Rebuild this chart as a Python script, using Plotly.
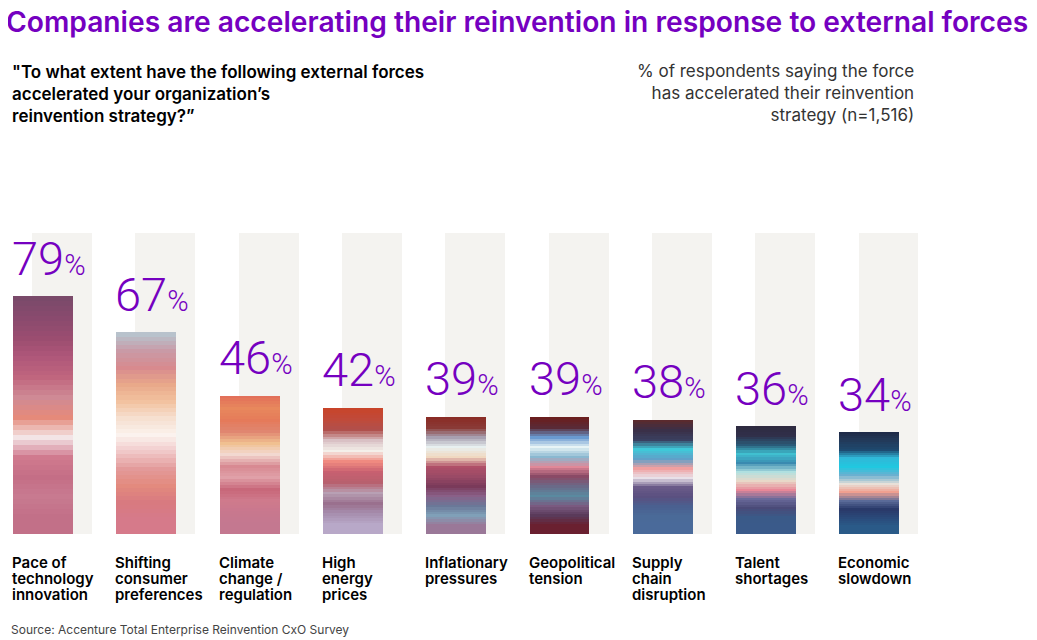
import plotly.graph_objects as go

# ---------------- data ----------------
categories = [
    "Pace of<br>technology<br>innovation",
    "Shifting<br>consumer<br>preferences",
    "Climate<br>change /<br>regulation",
    "High<br>energy<br>prices",
    "Inflationary<br>pressures",
    "Geopolitical<br>tension",
    "Supply<br>chain<br>disruption",
    "Talent<br>shortages",
    "Economic<br>slowdown",
]
values = [79, 67, 46, 42, 39, 39, 38, 36, 34]
track_values = [100, 100, 100, 100, 100, 100, 100, 100, 100]

title_text = "Companies are accelerating their reinvention in response to external forces"
question_text = ('"To what extent have the following external forces<br>'
                 'accelerated your organization\u2019s<br>reinvention strategy?\u201d')
measure_text = ("% of respondents saying the force<br>has accelerated their reinvention"
                "<br>strategy (n=1,516)")
source_text = "Source: Accenture Total Enterprise Reinvention CxO Survey"

# ---------------- styles ----------------
PAGE_W, PAGE_H = 1037, 640
OFF = 8                      # page body margin in the browser
W, H = PAGE_W - OFF, PAGE_H - OFF
PURPLE = "#7500C0"
TRACK = "#F4F3F0"
FONT = "Inter"

# colour stripes (top -> bottom) imitating the photo textures of each bar
stripes = [
    ["#7a4a6a", "#8a4a6e", "#9b4d70", "#b0587a", "#c0667e", "#cf8a95",
     "#e58a7a", "#f3e4e6", "#d07a8e", "#c46e86", "#c87a90", "#c27088"],
    ["#b8c2cc", "#c99aa6", "#d88a8e", "#e9a98a", "#f2c2a0", "#f6e0d0",
     "#fbf2ee", "#f0c8c8", "#e39a9a", "#e38a7e", "#d87a80", "#d67a8a"],
    ["#e2705a", "#e8885c", "#e57a5a", "#e08670", "#f0c090", "#f2d8d0",
     "#d88a92", "#e0a0a8", "#c8687a", "#cf7a8c", "#c8788e", "#c47890"],
    ["#c8442a", "#c04a3a", "#b0504c", "#d9c0c4", "#f4f0ea", "#f08a80",
     "#c86070", "#b8606e", "#b8a0b4", "#9a708e", "#a890b0", "#b8a8c8"],
    ["#8a2c26", "#8a3a36", "#a8a0b0", "#e8f0f0", "#f0d8c0", "#b05068",
     "#9a4a66", "#7a3a5a", "#8a6088", "#6a7898", "#80a0b8", "#9a7898"],
    ["#6a1e1e", "#5a2a36", "#6a9ad0", "#e8f4f6", "#8ab8d0", "#e08898",
     "#8a4a66", "#6a6a88", "#5a8aa0", "#7a5a80", "#5a3a5a", "#6a2030"],
    ["#5a2a2e", "#3a3048", "#3a4060", "#40c8d8", "#60a0c8", "#f0a0a0",
     "#e8e0e8", "#6a5a88", "#5a5080", "#4a6090", "#4a6a98", "#4a6a9a"],
    ["#2e2a40", "#30304a", "#2a5a78", "#40c0d0", "#3a8ab0", "#b0e0e0",
     "#e8d8c8", "#e88898", "#6a6a9a", "#4a4a78", "#3a5a88", "#3a5a8a"],
    ["#1e2a48", "#223a5a", "#1e4a70", "#30b8d8", "#20c8e0", "#6ab0d0",
     "#e8e0d8", "#f0a090", "#5a6a98", "#2a3a6a", "#2a4a7a", "#2a5a88"],
]


def _hex(c):
    c = c.lstrip("#")
    return [int(c[i:i + 2], 16) for i in (0, 2, 4)]


def smooth(cols, sub=4):
    """Blend neighbouring stripe colours for a softer gradient look."""
    out = []
    rgb = [_hex(c) for c in cols]
    for a, b in zip(rgb, rgb[1:] + [rgb[-1]]):
        for s in range(sub):
            t = s / sub
            m = [round(a[i] + (b[i] - a[i]) * t) for i in range(3)]
            out.append("#%02x%02x%02x" % tuple(m))
    return out


fine = [smooth(s) for s in stripes]

# pixel geometry (reference page px) -> axis ranges
UNIT_X = 103.3      # px per category slot
X0_PX = 13 - OFF    # px of first bar left edge
PX_PER_PCT = 3.01
Y0_PX = 534 - OFF   # px of baseline
BAR_W = 0.58
TRACK_OFF = 0.185

x_range = [-X0_PX / UNIT_X, (W - X0_PX) / UNIT_X]
y_range = [-(H - Y0_PX) / PX_PER_PCT, Y0_PX / PX_PER_PCT]


def py(px):
    """reference page pixel (from top) -> paper y"""
    return 1 - (px - OFF) / H


def pxx(px):
    return (px - OFF) / W


xs = list(range(len(values)))

fig = go.Figure()

# background tracks (100%)
fig.add_trace(go.Bar(
    x=xs, y=track_values, base=0, width=BAR_W, offset=TRACK_OFF,
    marker=dict(color=TRACK, line=dict(width=0)), hoverinfo="skip",
    showlegend=False,
))

# value bars, drawn as stacked stripes
n = len(fine[0])
for k in range(n):  # k = 0 top stripe
    fig.add_trace(go.Bar(
        x=xs,
        y=[v / n for v in values],
        base=[v * (n - 1 - k) / n for v in values],
        width=BAR_W, offset=0,
        marker=dict(color=[s[k] for s in fine], line=dict(width=0)),
        showlegend=False,
        hoverinfo="skip",
    ))

ann = []
# percentage labels
for i, v in enumerate(values):
    ann.append(dict(
        x=i, y=v + 2.7, xref="x", yref="y", xanchor="left", yanchor="bottom",
        text=f"{v}<span style='font-size:29px'>%</span>",
        showarrow=False, xshift=-3,
        font=dict(family="Roboto", size=47, color=PURPLE, weight=300),
    ))

# category labels: small base size sets tight 16px leading, glyphs at 15px
LBL_FS = 15
LEAD_FS = 12.3
for i, c in enumerate(categories):
    txt = "<br>".join(f"<span style='font-size:{LBL_FS}px'>{ln}</span>"
                      for ln in c.split("<br>"))
    ann.append(dict(
        x=i, y=py(551), xref="x", yref="paper",
        xanchor="left", yanchor="top", text=txt, showarrow=False,
        align="left", xshift=-3,
        font=dict(family=FONT, size=LEAD_FS, color="#000000", weight=600),
    ))

# title
ann.append(dict(
    x=pxx(4), y=py(3), xref="paper", yref="paper", xanchor="left",
    yanchor="top", text=title_text, showarrow=False,
    font=dict(family=FONT, size=28.2, color=PURPLE, weight=600),
))
# question
ann.append(dict(
    x=pxx(10), y=py(60), xref="paper", yref="paper", xanchor="left",
    yanchor="top", text=question_text, showarrow=False, align="left",
    font=dict(family=FONT, size=17, color="#000000", weight=600),
))
# measure note
ann.append(dict(
    x=pxx(916), y=py(59), xref="paper", yref="paper", xanchor="right",
    yanchor="top", text=measure_text, showarrow=False, align="right",
    font=dict(family=FONT, size=17, color="#333333", weight=400),
))
# source
ann.append(dict(
    x=pxx(9), y=py(620), xref="paper", yref="paper", xanchor="left",
    yanchor="top", text=source_text, showarrow=False,
    font=dict(family=FONT, size=12, color="#444444", weight=400),
))

fig.update_layout(
    width=W, height=H,
    margin=dict(l=0, r=0, t=0, b=0),
    paper_bgcolor="white", plot_bgcolor="white",
    barmode="overlay", bargap=0,
    xaxis=dict(range=x_range, visible=False, fixedrange=True),
    yaxis=dict(range=y_range, visible=False, fixedrange=True),
    annotations=ann,
    showlegend=False,
)

fig.write_html("out.html")
